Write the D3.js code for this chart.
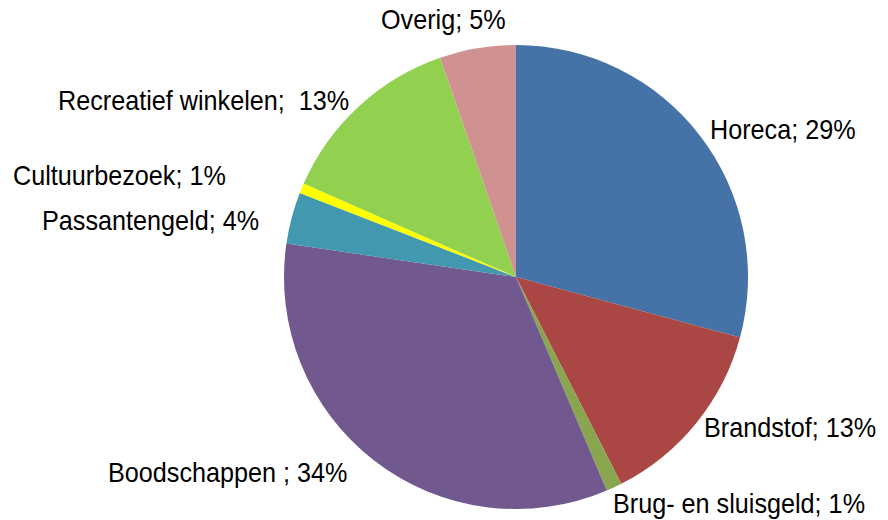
<!DOCTYPE html>
<html>
<head>
<meta charset="utf-8">
<script src="https://cdn.jsdelivr.net/npm/d3@7"></script>
<style>
  html, body { margin: 0; padding: 0; background: #fff; }
  svg { display: block; }
  text { font-family: "Liberation Sans", Arial, sans-serif; white-space: pre; }
</style>
</head>
<body>
<svg id="chart" width="888" height="520"></svg>
<script>
// categories, clockwise from 12 o'clock
const categories = ['Horeca', 'Brandstof', 'Brug- en sluisgeld', 'Boodschappen',
  'Passantengeld', 'Cultuurbezoek', 'Recreatief winkelen', 'Overig'];
// share of spending (%)
const shares = [29.2, 13.3, 1.1, 33.7, 3.6, 0.7, 13.1, 5.3];
// data labels as printed on the chart
const labelTexts = ['Horeca; 29%', 'Brandstof; 13%', 'Brug- en sluisgeld; 1%', 'Boodschappen ; 34%',
  'Passantengeld; 4%', 'Cultuurbezoek; 1%', 'Recreatief winkelen;  13%', 'Overig; 5%'];

const colors = ['#4572a7', '#aa4643', '#89a54e', '#71588f', '#4198af', '#ffff00', '#92d050', '#d09291'];
// label anchor (left, baseline) — layout only
const labelPos = [[710, 139], [704, 437], [613, 513], [108, 482],
  [42, 230], [13, 185], [58, 110], [381, 29]];

const cx = 516, cy = 277, r = 232;
const svg = d3.select('#chart');

const pie = d3.pie().sort(null).value((d) => d);
const arc = d3.arc().innerRadius(0).outerRadius(r);

const g = svg.append('g').attr('transform', `translate(${cx},${cy})`);
g.selectAll('path').data(pie(shares))
  .enter().append('path')
  .attr('d', arc)
  .attr('fill', (d, i) => colors[i]);

// labels — slightly condensed like the original
svg.selectAll('text.lbl').data(categories)
  .enter().append('text')
  .attr('class', 'lbl')
  .attr('transform', (d, i) => `translate(${labelPos[i][0]},${labelPos[i][1]}) scale(0.9,1)`)
  .attr('font-size', 28)
  .attr('fill', '#000')
  .text((d, i) => labelTexts[i]);
</script>
</body>
</html>
